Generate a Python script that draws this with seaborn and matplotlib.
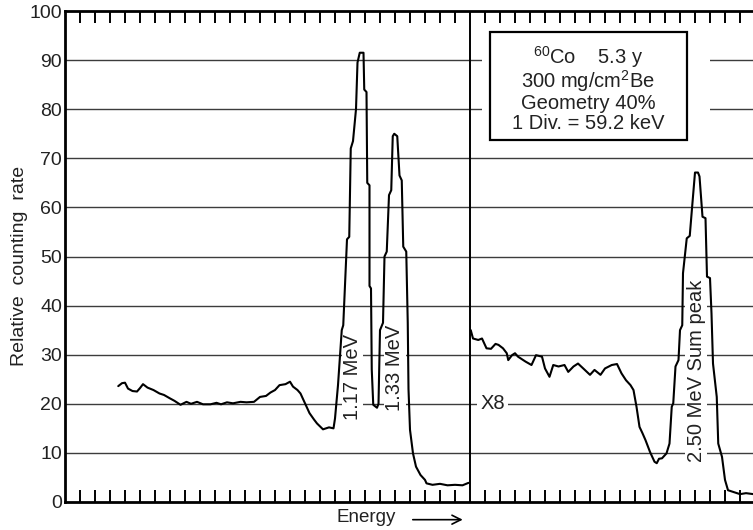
import matplotlib
matplotlib.use("Agg")
import matplotlib.pyplot as plt
import matplotlib.transforms as mtransforms
from matplotlib.patches import Rectangle
import seaborn as sns

# ---- data (x in channel divisions, y relative counting rate) ----
left_div = [3.55, 3.8, 4.0, 4.2, 4.5, 4.8, 5.0, 5.2, 5.5, 5.9, 6.3, 6.6, 7.0, 7.3, 7.7,
            8.1, 8.4, 8.8, 9.2, 9.7, 10.1, 10.4, 10.8, 11.2, 11.7, 12.1, 12.6, 13.0,
            13.4, 13.7, 14.0, 14.3, 14.7, 15.0, 15.2, 15.5, 15.7, 16.0, 16.3, 16.6,
            16.8, 17.2, 17.6, 17.9, 18.0, 18.2, 18.45, 18.55, 18.75, 18.8, 18.95, 19.05, 19.2,
            19.4, 19.5, 19.65, 19.9, 19.95, 20.1, 20.15, 20.3, 20.3, 20.4, 20.45, 20.55,
            20.8, 20.9, 21.0, 21.2, 21.3, 21.45, 21.6, 21.75, 21.85, 21.95, 22.15, 22.3,
            22.45, 22.55, 22.75, 22.85, 22.9, 23.0, 23.2, 23.4, 23.7, 24.0, 24.1, 24.5,
            25.0, 25.5, 26.0, 26.5, 26.9]
left_rate = [23.6, 24.2, 24.3, 23.1, 22.6, 22.5, 23.2, 24.0, 23.3, 22.8, 22.1, 21.8, 21.1,
             20.6, 19.8, 20.4, 20.0, 20.4, 19.9, 19.9, 20.2, 19.9, 20.3, 20.1, 20.4, 20.3,
             20.4, 21.4, 21.6, 22.3, 22.8, 23.8, 24.0, 24.5, 23.5, 22.8, 22.1, 20.1, 18.1,
             16.8, 16.0, 14.8, 15.2, 15.0, 17.0, 23.8, 35.0, 36.0, 50.0, 53.5, 54.0, 72.0, 73.5,
             80.0, 89.5, 91.5, 91.5, 84.0, 83.5, 65.0, 64.5, 44.0, 43.5, 27.0, 19.8, 19.2,
             20.0, 35.0, 36.5, 50.0, 51.0, 62.5, 63.5, 74.5, 75.0, 74.5, 66.5, 65.5, 52.0,
             51.0, 36.5, 23.0, 14.7, 9.9, 7.2, 5.5, 4.5, 3.8, 3.5, 3.7, 3.4, 3.5, 3.4, 3.9]

right_div = [27.05, 27.2, 27.55, 27.8, 28.1, 28.4, 28.7, 28.9, 29.2, 29.45, 29.55, 29.8,
             30.0, 30.2, 30.7, 31.1, 31.4, 31.8, 32.0, 32.3, 32.55, 32.9, 33.3, 33.55,
             33.9, 34.2, 34.55, 35.0, 35.3, 35.7, 36.0, 36.45, 36.8, 37.1, 37.4, 37.7,
             37.9, 38.1, 38.3, 38.5, 38.7, 39.0, 39.3, 39.45, 39.6, 39.8, 40.1, 40.3,
             40.45, 40.55, 40.7, 40.9, 41.0, 41.15, 41.2, 41.45, 41.65, 41.8, 42.0, 42.2,
             42.3, 42.5, 42.7, 42.8, 43.0, 43.1, 43.2, 43.45, 43.55, 43.8, 44.0, 44.2,
             44.6, 45.0, 45.4, 45.9]
right_rate = [35.0, 33.3, 33.0, 33.3, 31.3, 31.2, 32.2, 32.0, 31.3, 30.3, 28.9, 29.9, 30.3,
              29.6, 28.6, 27.9, 29.9, 29.6, 27.2, 25.5, 27.9, 27.6, 27.9, 26.5, 27.6, 28.2,
              27.2, 25.9, 26.9, 25.9, 27.2, 27.9, 28.1, 26.2, 24.8, 23.8, 22.8, 19.4, 15.3,
              14.0, 12.6, 10.2, 8.2, 7.9, 8.8, 8.9, 9.9, 11.9, 19.4, 20.1, 27.6, 28.9, 35.0,
              36.0, 46.6, 53.7, 54.2, 59.8, 67.1, 67.1, 66.3, 58.1, 57.8, 45.9, 45.6, 38.4,
              28.2, 21.4, 11.9, 9.2, 4.5, 2.4, 2.0, 1.6, 1.8, 1.6]

y_ticks = [0, 10, 20, 30, 40, 50, 60, 70, 80, 90, 100]
div_ticks = [d for d in range(1, 46) if d != 27]
split_div = 27
info_lines = [r"$^{60}$Co    5.3 y", r"300 mg/cm$^{2}$Be", "Geometry 40%", "1 Div. = 59.2 keV"]
peak_labels = ["1.17 MeV", "1.33 MeV", "2.50 MeV Sum peak"]

# ---- style ----
sns.set_style("white")
plt.rcParams['font.family'] = ['Liberation Sans', 'DejaVu Sans']
plt.rcParams['mathtext.default'] = 'regular'

TXT = '#222222'
fig = plt.figure(figsize=(7.53, 5.30), dpi=100)
ax = fig.add_axes([65 / 753, 28 / 530, 690 / 753, 491 / 530])

sns.lineplot(x=left_div, y=left_rate, sort=False, estimator=None, color='black',
             lw=1.5, ax=ax, zorder=5)
sns.lineplot(x=right_div, y=right_rate, sort=False, estimator=None, color='black',
             lw=1.5, ax=ax, zorder=5)

ax.set_xlim(0, 46)
ax.set_ylim(0, 100)

for v in y_ticks[1:-1]:
    ax.axhline(v, color='#3c3c3c', lw=1.0, zorder=1)
ax.axvline(split_div, color='black', lw=1.4, zorder=2)

for side in ['left', 'top', 'bottom']:
    ax.spines[side].set_linewidth(2.0)
    ax.spines[side].set_color('black')
ax.spines['right'].set_visible(False)

ax.set_xticks(div_ticks)
ax.tick_params(axis='x', direction='in', top=True, bottom=True, length=8.5, width=1.4,
               labelbottom=False, labeltop=False, color='black')
ax.set_yticks(y_ticks)
ax.set_yticklabels([str(v) for v in y_ticks])
ax.tick_params(axis='y', length=0, pad=2, labelsize=14, labelcolor=TXT)
ax.set_xlabel('')
ax.set_ylabel('Relative  counting  rate', fontsize=14, color=TXT)
ax.yaxis.set_label_coords(-0.054, 0.48)

# info box
ax.add_patch(Rectangle((27.8, 72.5), 15.2, 25.0, facecolor='white', edgecolor='none', zorder=3))
ax.add_patch(Rectangle((28.33, 73.7), 13.12, 22.1, facecolor='white', edgecolor='black',
                       lw=1.6, zorder=4))
for txt, yv in zip(info_lines, [90.7, 85.8, 81.1, 77.0]):
    ax.text(34.87, yv, txt, ha='center', va='center', fontsize=14.5, color=TXT, zorder=5)

bb = dict(facecolor='white', edgecolor='none', pad=1.0)
ax.text(19.17, 25.5, peak_labels[0], rotation=90, ha='center', va='center', fontsize=14.5,
        color=TXT, bbox=bb, zorder=4)
ax.text(22.0, 27.3, peak_labels[1], rotation=90, ha='center', va='center', fontsize=14.5,
        color=TXT, bbox=bb, zorder=4)
ax.text(42.07, 26.7, peak_labels[2], rotation=90, ha='center', va='center', fontsize=14.5,
        color=TXT, bbox=bb, zorder=4)
ax.text(28.5, 20, 'X8', ha='center', va='center', fontsize=14.5, color=TXT,
        bbox=dict(facecolor='white', edgecolor='none', pad=2.5), zorder=4)

trans = mtransforms.blended_transform_factory(ax.transData, ax.transAxes)
ax.text(20.1, -0.031, 'Energy', transform=trans, ha='center', va='center', fontsize=13.5,
        color=TXT, clip_on=False)
ax.annotate('', xy=(26.7, -0.036), xytext=(23.0, -0.036), xycoords=trans,
            arrowprops=dict(arrowstyle='->', lw=1.2, color='black', mutation_scale=16),
            annotation_clip=False)

fig.savefig('out.png', dpi=100)
